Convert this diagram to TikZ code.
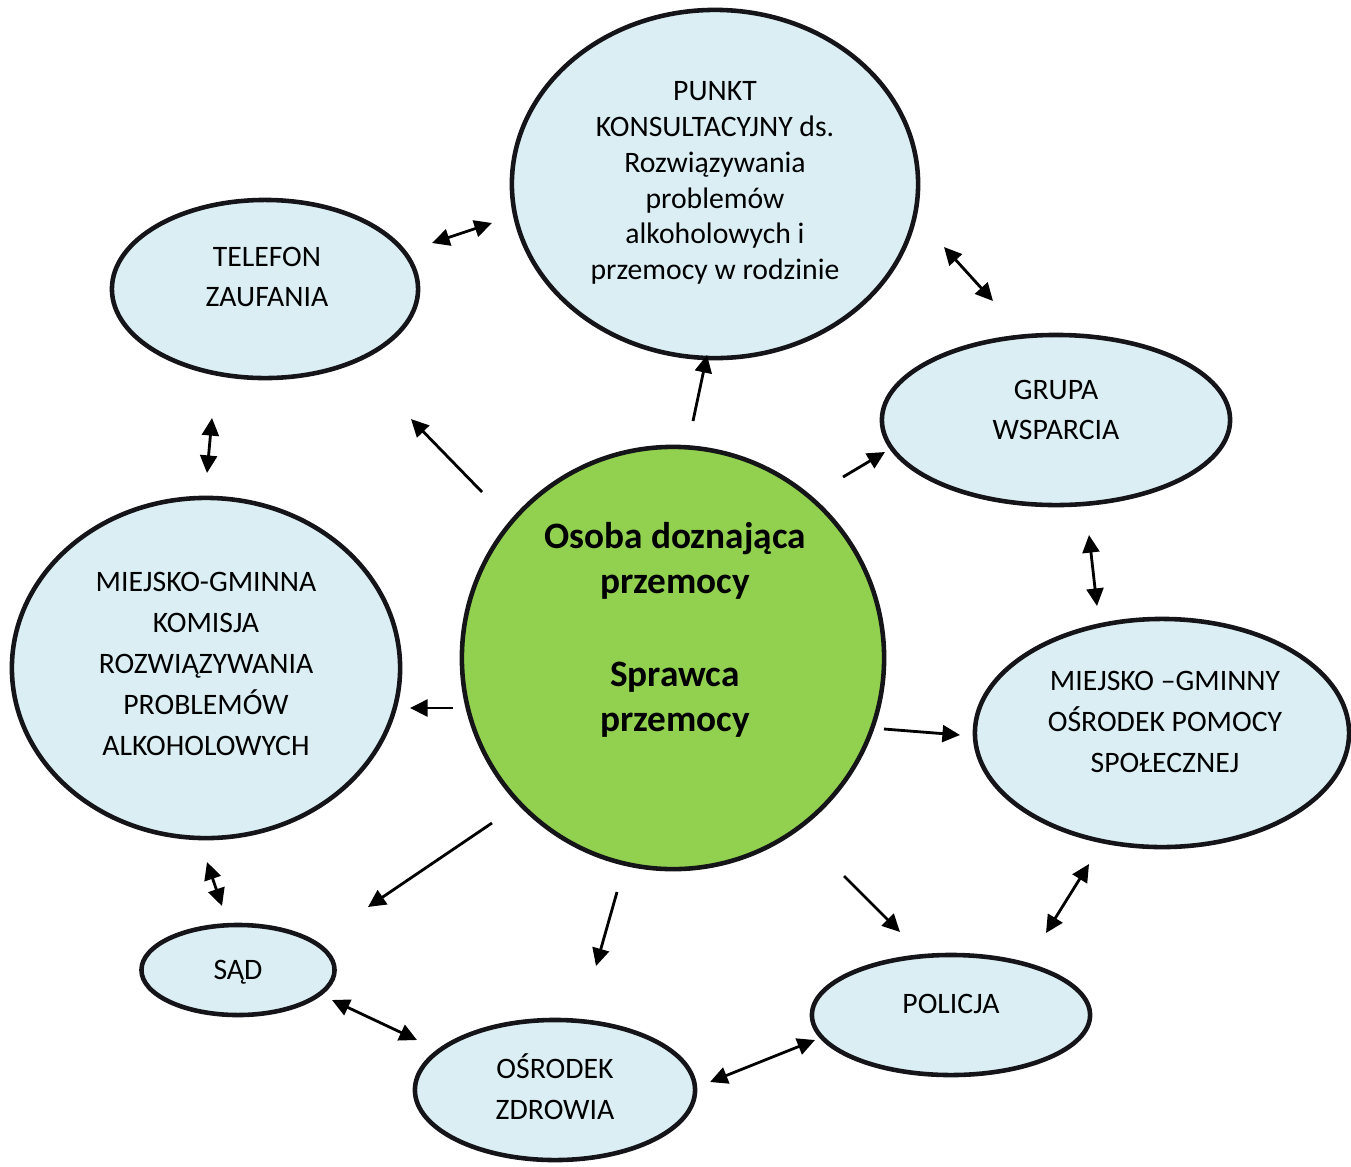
\documentclass[tikz,border=0pt]{standalone}
\usepackage{fontspec}
\setmainfont{Carlito}
\usetikzlibrary{shapes.geometric,arrows.meta}

\definecolor{bluefill}{RGB}{218,238,243}
\definecolor{greenfill}{RGB}{146,208,80}
\definecolor{rim}{RGB}{20,20,25}

\tikzset{
  inst/.style={ellipse, draw=rim, line width=1.3pt, fill=bluefill, inner sep=0pt},
  txt/.style={align=center, font=\fontsize{8.45}{11.6}\selectfont},
  arr/.style={-{Triangle[length=5pt,width=4.8pt]}, line width=0.8pt},
  dbl/.style={{Triangle[length=5pt,width=4.8pt]}-{Triangle[length=5pt,width=4.8pt]}, line width=0.8pt}
}

\begin{document}
\begin{tikzpicture}[x=0.01cm, y=-0.01cm]
  \useasboundingbox (0,0) rectangle (1351,1166);

  % institutions
  \node[inst, minimum width=4.06cm, minimum height=3.48cm] (punkt) at (715,184) {};
  \node[inst, minimum width=3.06cm, minimum height=1.78cm] (tel) at (265,289) {};
  \node[inst, minimum width=3.48cm, minimum height=1.70cm] (grupa) at (1056,420) {};
  \node[inst, minimum width=3.88cm, minimum height=3.40cm] (komisja) at (206,668) {};
  \node[inst, minimum width=3.74cm, minimum height=2.28cm] (ops) at (1162,733) {};
  \node[inst, minimum width=1.93cm, minimum height=0.90cm] (sad) at (238,970) {};
  \node[inst, minimum width=2.78cm, minimum height=1.20cm] (policja) at (951,1015) {};
  \node[inst, minimum width=2.80cm, minimum height=1.40cm] (zdrowie) at (555,1090) {};

  \node[txt, font=\fontsize{8.45}{10.2}\selectfont] (punkttxt) at (715,183)
    {PUNKT\\KONSULTACYJNY ds.\\Rozwiązywania\\problemów\\alkoholowych i\\przemocy w rodzinie};
  \node[txt] (teltxt) at (267,277) {TELEFON\\ZAUFANIA};
  \node[txt] (grupatxt) at (1056,410) {GRUPA\\WSPARCIA};
  \node[txt] (komisjatxt) at (206,664)
    {MIEJSKO-GMINNA\\KOMISJA\\ROZWIĄZYWANIA\\PROBLEMÓW\\ALKOHOLOWYCH};
  \node[txt] (opstxt) at (1165,722) {MIEJSKO –GMINNY\\OŚRODEK POMOCY\\SPOŁECZNEJ};
  \node[txt] (sadtxt) at (238,972) {SĄD};
  \node[txt] (policjatxt) at (951,1004) {POLICJA};
  \node[txt] (zdrowietxt) at (555,1087) {OŚRODEK\\ZDROWIA};

  % centre
  \node[circle, draw=rim, line width=1.3pt, fill=greenfill, minimum size=4.22cm] (osoba) at (673,658) {};
  \node[align=center, font=\bfseries\fontsize{10.6}{12.8}\selectfont] (osobatxt) at (675,630)
    {Osoba doznająca\\przemocy\\[13.8pt]Sprawca\\przemocy};

  % arrow ends
  \coordinate (a1) at (432,243);   \coordinate (b1) at (492,223);
  \coordinate (a2) at (944,247);   \coordinate (b2) at (993,301);
  \coordinate (a3) at (482,492);   \coordinate (b3) at (411,419);
  \coordinate (a4) at (693,421);   \coordinate (b4) at (707,355);
  \coordinate (a5) at (843,477);   \coordinate (b5) at (885,452);
  \coordinate (a6) at (212,418);   \coordinate (b6) at (207,473);
  \coordinate (a7) at (1089,535);  \coordinate (b7) at (1097,606);
  \coordinate (a8) at (453,708);   \coordinate (b8) at (410,708);
  \coordinate (a9) at (884,729);   \coordinate (b9) at (960,735);
  \coordinate (a10) at (1089,864); \coordinate (b10) at (1046,933);
  \coordinate (a11) at (332,1000); \coordinate (b11) at (417,1040);
  \coordinate (a12) at (710,1082); \coordinate (b12) at (815,1040);
  \coordinate (a13) at (207,862);  \coordinate (b13) at (222,906);
  \coordinate (a14) at (492,823);  \coordinate (b14) at (368,907);
  \coordinate (a15) at (617,892);  \coordinate (b15) at (596,966);
  \coordinate (a16) at (844,876);  \coordinate (b16) at (900,932);

  \draw[dbl] (a1) -- (b1);
  \draw[dbl] (a2) -- (b2);
  \draw[arr] (a3) -- (b3);
  \draw[arr] (a4) -- (b4);
  \draw[arr] (a5) -- (b5);
  \draw[dbl] (a6) -- (b6);
  \draw[dbl] (a7) -- (b7);
  \draw[arr] (a8) -- (b8);
  \draw[arr] (a9) -- (b9);
  \draw[dbl] (a10) -- (b10);
  \draw[dbl] (a11) -- (b11);
  \draw[dbl] (a12) -- (b12);
  \draw[dbl] (a13) -- (b13);
  \draw[arr] (a14) -- (b14);
  \draw[arr] (a15) -- (b15);
  \draw[arr] (a16) -- (b16);
\end{tikzpicture}
\end{document}
